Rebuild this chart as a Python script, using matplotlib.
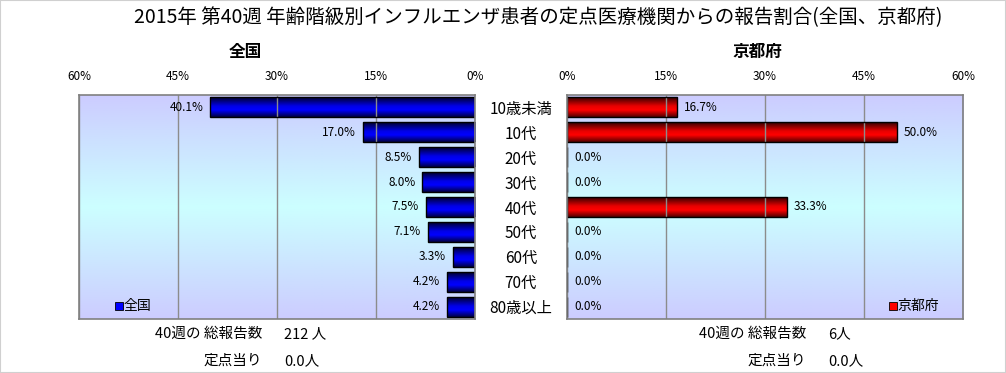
import numpy as np
import matplotlib
matplotlib.use("Agg")
import matplotlib.pyplot as plt
from matplotlib.colors import LinearSegmentedColormap
from matplotlib.patches import Rectangle

plt.rcParams['font.family'] = ['Noto Sans CJK JP', 'DejaVu Sans']

title = "2015年 第40週 年齢階級別インフルエンザ患者の定点医療機関からの報告割合(全国、京都府)"
categories = ["10歳未満", "10代", "20代", "30代", "40代", "50代", "60代", "70代", "80歳以上"]
national = [40.1, 17.0, 8.5, 8.0, 7.5, 7.1, 3.3, 4.2, 4.2]
kyoto = [16.7, 50.0, 0.0, 0.0, 33.3, 0.0, 0.0, 0.0, 0.0]
ticks = [0, 15, 30, 45, 60]
tick_labels = ["0%", "15%", "30%", "45%", "60%"]
nat_total = "212 人"
nat_per = "0.0人"
kyo_total = "6人"
kyo_per = "0.0人"

W, H = 1006, 373
fig = plt.figure(figsize=(W / 100, H / 100), dpi=100)
fig.patch.set_facecolor('white')
fig.patches.append(Rectangle((0, 0), 1, 1, transform=fig.transFigure, fill=False,
                             edgecolor='#d0d0d0', linewidth=1.5))

def fx(px):
    return px / W

def fy(py):
    return 1 - py / H

ax_top, ax_bot = 95, 319
axL = fig.add_axes([fx(79), fy(ax_bot), fx(475 - 79), (ax_bot - ax_top) / H])
axR = fig.add_axes([fx(567), fy(ax_bot), fx(963 - 567), (ax_bot - ax_top) / H])

bg_cmap = LinearSegmentedColormap.from_list(
    'bg', [(0, '#ccccff'), (0.5, '#ccffff'), (1, '#ccccff')])
blue_cmap = LinearSegmentedColormap.from_list(
    'bl', [(0, '#000028'), (0.45, '#0000e8'), (0.65, '#0000ff'), (1, '#000040')])
red_cmap = LinearSegmentedColormap.from_list(
    'rd', [(0, '#300000'), (0.45, '#e80000'), (0.65, '#ff0000'), (1, '#500000')])

grad = np.linspace(0, 1, 256).reshape(-1, 1)
y = np.arange(len(categories))

def setup(ax, values, cmap, inverted):
    ax.imshow(grad, cmap=bg_cmap, aspect='auto', extent=[0, 1, 1, 0],
              transform=ax.transAxes, zorder=0, interpolation='bilinear')
    bars = ax.barh(y, values, height=0.8, facecolor='none', edgecolor='black',
                   linewidth=1.0, zorder=3)
    for b in bars:
        if b.get_width() > 0:
            x0 = b.get_x()
            x1 = x0 + b.get_width()
            y0 = b.get_y()
            y1 = y0 + b.get_height()
            ax.imshow(grad, cmap=cmap, aspect='auto', extent=[x0, x1, y1, y0],
                      zorder=2, interpolation='bilinear')
    ax.set_ylim(len(categories) - 0.5, -0.5)
    if inverted:
        ax.set_xlim(60, 0)
    else:
        ax.set_xlim(0, 60)
    ax.set_xticks(ticks)
    ax.set_xticklabels(tick_labels)
    ax.xaxis.tick_top()
    ax.tick_params(axis='x', length=0, pad=9, labelsize=8.5, colors='black')
    ax.grid(axis='x', color='#8c8c8c', linewidth=1.0, zorder=1)
    ax.set_axisbelow(False)
    for s in ax.spines.values():
        s.set_color('#808080')
        s.set_linewidth(1.2)
        s.set_zorder(4)
    for v, yy in zip(values, y):
        if inverted:
            ax.annotate(f"{v:.1f}%", (v, yy), xytext=(-5, 0), textcoords='offset points',
                        ha='right', va='center', fontsize=8.5, zorder=5)
        else:
            ax.annotate(f"{v:.1f}%", (v, yy), xytext=(5, 0), textcoords='offset points',
                        ha='left', va='center', fontsize=8.5, zorder=5)
    return bars

setup(axL, national, blue_cmap, True)
setup(axR, kyoto, red_cmap, False)

axL.set_yticks(y)
axL.set_yticklabels(categories)
axL.yaxis.tick_right()
axL.tick_params(axis='y', length=0, pad=33, labelsize=11)
for lab in axL.get_yticklabels():
    lab.set_horizontalalignment('center')
axR.set_yticks([])

fig.text(fx(538), fy(18), title, ha='center', va='center', fontsize=14)
fig.text(fx(245), fy(52), "全国", ha='center', va='center', fontsize=12, fontweight='bold')
fig.text(fx(757), fy(52), "京都府", ha='center', va='center', fontsize=12, fontweight='bold')

# legends
ly = 0.06
axL.plot([0.1], [ly], marker='s', markersize=5.5, color='#0000ff', markeredgecolor='black',
         markeredgewidth=0.6, transform=axL.transAxes, zorder=6, clip_on=False)
axL.text(0.112, ly, "全国", transform=axL.transAxes, ha='left', va='center', fontsize=10, zorder=6)
axR.plot([0.823], [ly], marker='s', markersize=5.5, color='#ff0000', markeredgecolor='black',
         markeredgewidth=0.6, transform=axR.transAxes, zorder=6, clip_on=False)
axR.text(0.835, ly, "京都府", transform=axR.transAxes, ha='left', va='center', fontsize=10, zorder=6)

# bottom info
fs = 10.5
fig.text(fx(262), fy(334), "40週の 総報告数", ha='right', va='center', fontsize=fs)
fig.text(fx(284), fy(334), nat_total, ha='left', va='center', fontsize=fs)
fig.text(fx(262), fy(361), "定点当り", ha='right', va='center', fontsize=fs)
fig.text(fx(284), fy(361), nat_per, ha='left', va='center', fontsize=fs)
fig.text(fx(806), fy(334), "40週の 総報告数", ha='right', va='center', fontsize=fs)
fig.text(fx(828), fy(334), kyo_total, ha='left', va='center', fontsize=fs)
fig.text(fx(806), fy(361), "定点当り", ha='right', va='center', fontsize=fs)
fig.text(fx(828), fy(361), kyo_per, ha='left', va='center', fontsize=fs)

fig.savefig("out.png", dpi=100)
